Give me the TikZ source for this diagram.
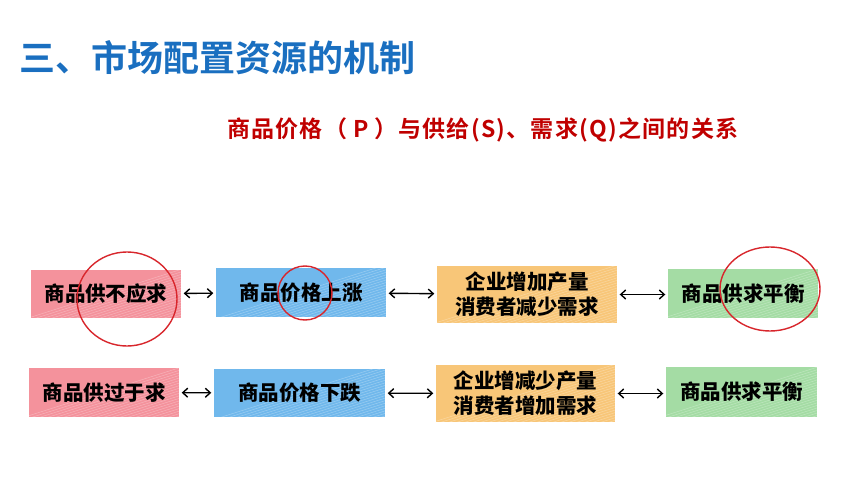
\documentclass[tikz,border=0pt]{standalone}
\usepackage{fontspec}
\usetikzlibrary{arrows.meta,shapes.geometric,calc}
\newfontfamily\cjk{Noto Sans CJK SC Bold}
\newfontfamily\cjkwide{Noto Sans CJK SC Bold}[LetterSpace=5.5]
\newfontfamily\cjkheavy{Noto Sans CJK SC Black}
\definecolor{titleblue}{HTML}{1A6FC0}
\definecolor{subred}{HTML}{C00000}
\definecolor{ringred}{HTML}{D8262C}
\definecolor{boxred}{HTML}{F4929C}
\definecolor{boxblue}{HTML}{70B8EC}
\definecolor{boxorange}{HTML}{F8C678}
\definecolor{boxgreen}{HTML}{A4DCA4}
\tikzset{
  x=1pt,y=-1pt,
  hatch/.style={path picture={
    \foreach \k in {-16,...,16}{
      \draw[white,opacity=.3,line width=.5pt]
        ($(path picture bounding box.center)+(\k*8pt,-40pt)$) -- ++(220pt,70pt);
    }}},
  stepbox/.style={draw=none,inner sep=0pt,align=center,hatch,
    font=\cjkheavy\fontsize{20.5pt}{25pt}\selectfont},
  ring/.style={draw=ringred,line width=1.4pt,ellipse,inner sep=0pt},
  link/.style={draw=black,line width=1.4pt,{Straight Barb[length=5pt,width=9pt]}-{Straight Barb[length=5pt,width=9pt]},
    shorten <=2.5pt,shorten >=2.5pt}
}
\begin{document}
\begin{tikzpicture}
\useasboundingbox[fill=white] (0,0) rectangle (860,484);
\node[anchor=west,inner sep=0pt,text=titleblue,font=\cjk\fontsize{36pt}{40pt}\selectfont] (title) at (19,58) {三、市场配置资源的机制};
\node[anchor=west,inner sep=0pt,text=subred,font=\cjkwide\fontsize{23pt}{26pt}\selectfont] (sub) at (227,130) {商品价格（\hspace{0.25em}P\hspace{0.25em}）与供给(S)、需求(Q)之间的关系};
% row 1
\node[stepbox,fill=boxred,minimum width=150pt,minimum height=48pt] (r1) at (106,294) {商品供不应求};
\node[stepbox,fill=boxblue,minimum width=170pt,minimum height=49pt] (b1) at (301,292.5) {商品价格上涨};
\node[stepbox,fill=boxorange,minimum width=180pt,minimum height=57pt] (o1) at (527,294.5) {企业增加产量\\消费者减少需求};
\node[stepbox,fill=boxgreen,minimum width=150pt,minimum height=49pt] (g1) at (743,293.5) {商品供求平衡};
% row 2
\node[stepbox,fill=boxred,minimum width=150pt,minimum height=49pt] (r2) at (104,392.5) {商品供过于求};
\node[stepbox,fill=boxblue,minimum width=171pt,minimum height=48pt] (b2) at (299.5,393) {商品价格下跌};
\node[stepbox,fill=boxorange,minimum width=179pt,minimum height=57pt] (o2) at (525.5,393.5) {企业增减少产量\\消费者增加需求};
\node[stepbox,fill=boxgreen,minimum width=151pt,minimum height=50pt] (g2) at (741.5,392) {商品供求平衡};
% connectors
\draw[link] (r1) -- (b1);
\draw[link] (b1) -- (o1);
\draw[link] (o1.east) -- (g1.west|-o1.east);
\draw[link] (r2) -- (b2);
\draw[link] (b2) -- (o2);
\draw[link] (o2.east) -- (g2.west|-o2.east);
% rings
\node[ring,minimum width=100pt,minimum height=94pt] (c1) at (127,299) {};
\node[ring,minimum width=54pt,minimum height=54pt] (c2) at (305,293) {};
\node[ring,minimum width=100pt,minimum height=84pt] (c3) at (770,289) {};
\end{tikzpicture}
\end{document}
